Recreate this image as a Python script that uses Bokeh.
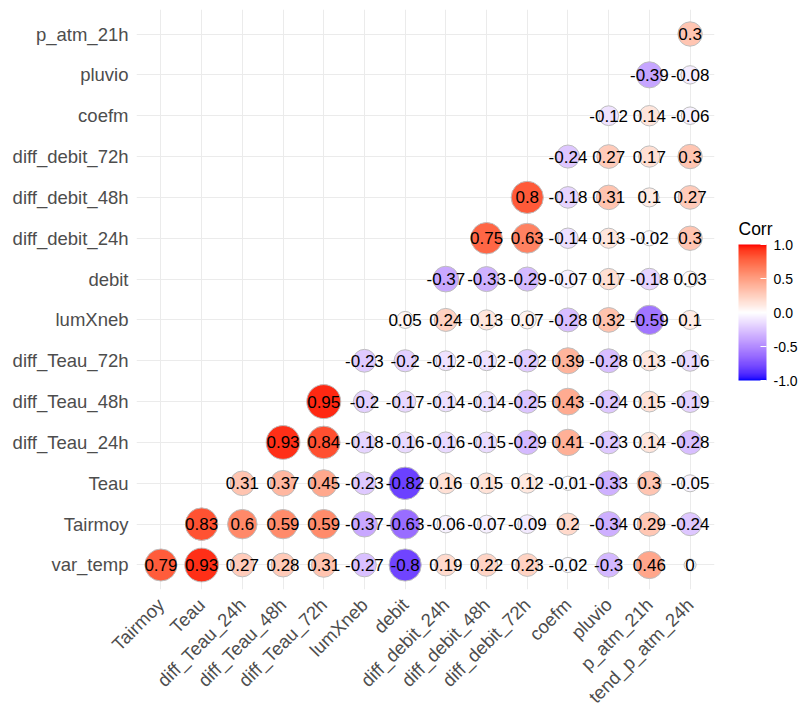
import math
import numpy as np
from bokeh.plotting import figure
from bokeh.models import (ColumnDataSource, FactorRange, ColorBar, LinearColorMapper,
                          FixedTicker, PrintfTickFormatter)
from bokeh.core.properties import value
from bokeh.embed import file_html
from bokeh.resources import INLINE

# ---------------- data ----------------
x_labels = ["Tairmoy", "Teau", "diff_Teau_24h", "diff_Teau_48h", "diff_Teau_72h",
            "lumXneb", "debit", "diff_debit_24h", "diff_debit_48h", "diff_debit_72h",
            "coefm", "pluvio", "p_atm_21h", "tend_p_atm_24h"]
y_labels = ["var_temp", "Tairmoy", "Teau", "diff_Teau_24h", "diff_Teau_48h",
            "diff_Teau_72h", "lumXneb", "debit", "diff_debit_24h", "diff_debit_48h",
            "diff_debit_72h", "coefm", "pluvio", "p_atm_21h"]

r_var_temp = [0.79, 0.93, 0.27, 0.28, 0.31, -0.27, -0.8, 0.19, 0.22, 0.23, -0.02, -0.3, 0.46, 0.0]
r_tairmoy = [0.83, 0.6, 0.59, 0.59, -0.37, -0.63, -0.06, -0.07, -0.09, 0.2, -0.34, 0.29, -0.24]
r_teau = [0.31, 0.37, 0.45, -0.23, -0.82, 0.16, 0.15, 0.12, -0.01, -0.33, 0.3, -0.05]
r_dteau24 = [0.93, 0.84, -0.18, -0.16, -0.16, -0.15, -0.29, 0.41, -0.23, 0.14, -0.28]
r_dteau48 = [0.95, -0.2, -0.17, -0.14, -0.14, -0.25, 0.43, -0.24, 0.15, -0.19]
r_dteau72 = [-0.23, -0.2, -0.12, -0.12, -0.22, 0.39, -0.28, 0.13, -0.16]
r_lumxneb = [0.05, 0.24, 0.13, 0.07, -0.28, 0.32, -0.59, 0.1]
r_debit = [-0.37, -0.33, -0.29, -0.07, 0.17, -0.18, 0.03]
r_ddeb24 = [0.75, 0.63, -0.14, 0.13, -0.02, 0.3]
r_ddeb48 = [0.8, -0.18, 0.31, 0.1, 0.27]
r_ddeb72 = [-0.24, 0.27, 0.17, 0.3]
r_coefm = [-0.12, 0.14, -0.06]
r_pluvio = [-0.39, -0.08]
r_patm21 = [0.3]

rows = [r_var_temp, r_tairmoy, r_teau, r_dteau24, r_dteau48, r_dteau72, r_lumxneb,
        r_debit, r_ddeb24, r_ddeb48, r_ddeb72, r_coefm, r_pluvio, r_patm21]

cbar_ticks = [-1.0, -0.5, 0.0, 0.5, 1.0]
legend_title = "Corr"

# ---------------- colour palette (Lab interpolation blue-white-red) ----------------
def srgb_to_lab(rgb):
    c = np.array(rgb, dtype=float) / 255.0
    c = np.where(c > 0.04045, ((c + 0.055) / 1.055) ** 2.4, c / 12.92)
    M = np.array([[0.4124564, 0.3575761, 0.1804375],
                  [0.2126729, 0.7151522, 0.0721750],
                  [0.0193339, 0.1191920, 0.9503041]])
    xyz = M @ c
    wp = np.array([0.95047, 1.0, 1.08883])
    t = xyz / wp
    f = np.where(t > (6 / 29) ** 3, np.cbrt(t), t / (3 * (6 / 29) ** 2) + 4 / 29)
    L = 116 * f[1] - 16
    a = 500 * (f[0] - f[1])
    b = 200 * (f[1] - f[2])
    return np.array([L, a, b])


def lab_to_hex(lab):
    L, a, b = lab
    fy = (L + 16) / 116
    fx = fy + a / 500
    fz = fy - b / 200
    f = np.array([fx, fy, fz])
    d = 6 / 29
    t = np.where(f > d, f ** 3, 3 * d * d * (f - 4 / 29))
    xyz = t * np.array([0.95047, 1.0, 1.08883])
    Minv = np.array([[3.2404542, -1.5371385, -0.4985314],
                     [-0.9692660, 1.8760108, 0.0415560],
                     [0.0556434, -0.2040259, 1.0572252]])
    lin = Minv @ xyz
    lin = np.clip(lin, 0, 1)
    s = np.where(lin > 0.0031308, 1.055 * lin ** (1 / 2.4) - 0.055, 12.92 * lin)
    s = np.clip(np.round(s * 255), 0, 255).astype(int)
    return "#%02x%02x%02x" % tuple(s)


lab_blue = srgb_to_lab([0, 0, 255])
lab_white = srgb_to_lab([255, 255, 255])
lab_red = srgb_to_lab([255, 0, 0])
palette = []
N = 256
for k in range(N):
    t = -1 + 2 * k / (N - 1)
    if t < 0:
        lab = lab_white + (lab_blue - lab_white) * (-t)
    else:
        lab = lab_white + (lab_red - lab_white) * t
    palette.append(lab_to_hex(lab))

mapper = LinearColorMapper(palette=palette, low=-1, high=1)

# ---------------- long-form table ----------------
xs, ys, vals = [], [], []
for i, row in enumerate(rows):
    for j, v in enumerate(row):
        xs.append(x_labels[i + j])
        ys.append(y_labels[i])
        vals.append(v)
vals_arr = np.array(vals)
max_abs = np.abs(vals_arr).max()
sizes = 12 + 22 * np.sqrt(np.abs(vals_arr) / max_abs)
labels = [f"{v:g}" for v in vals]

src = ColumnDataSource(dict(x=xs, y=ys, v=vals, size=sizes, label=labels))

FONT = "Liberation Sans"
FRAME_W, FRAME_H = 578, 580

p = figure(
    x_range=FactorRange(factors=x_labels, range_padding=0.1, range_padding_units="absolute"),
    y_range=FactorRange(factors=y_labels, range_padding=0.1, range_padding_units="absolute"),
    frame_width=FRAME_W, frame_height=FRAME_H,
    output_backend="svg", toolbar_location=None,
    min_border_left=136, min_border_top=9, min_border_right=86, min_border_bottom=10,
)
p.outline_line_color = None
p.background_fill_color = "white"
p.border_fill_color = "white"

for ax in (p.xaxis[0], p.yaxis[0]):
    ax.axis_line_color = None
    ax.major_tick_line_color = None
    ax.minor_tick_line_color = None
    ax.major_tick_out = 0
    ax.major_tick_in = 0
    ax.major_label_text_font = FONT
    ax.major_label_text_font_size = "18.5px"
    ax.major_label_text_color = "#4D4D4D"

p.yaxis.major_label_standoff = 8
p.xaxis.major_label_standoff = 12
p.xaxis.major_label_orientation = math.pi / 4

p.xgrid.grid_line_color = "#EBEBEB"
p.ygrid.grid_line_color = "#EBEBEB"
p.xgrid.grid_line_width = 1
p.ygrid.grid_line_width = 1

p.scatter(x="x", y="y", size="size", source=src,
          fill_color={"field": "v", "transform": mapper},
          line_color="#BEBEBE", line_width=1)

p.text(x="x", y="y", text="label", source=src,
       text_align="center", text_baseline="middle",
       text_font=value(FONT), text_font_size="17px", text_color="black")

# colour bar
cb = ColorBar(
    color_mapper=mapper, width=28, height=136, margin=0, padding=0,
    location=(FRAME_W + 24, 209),
    major_label_text_font=FONT, major_label_text_font_size="14px",
    major_label_text_color="black",
    label_standoff=7,
    ticker=FixedTicker(ticks=cbar_ticks),
    formatter=PrintfTickFormatter(format="%.1f"),
    major_tick_line_color="white", major_tick_in=6, major_tick_out=0,
    minor_tick_line_color=None,
    bar_line_color=None, border_line_color=None,
    background_fill_color=None, background_fill_alpha=0,
)
p.add_layout(cb, "center")

# horizontal title above the colour bar (a title-only horizontal colour bar)
cb_title = ColorBar(
    color_mapper=mapper, orientation="horizontal", width=28, height=1,
    margin=0, padding=0, location=(FRAME_W + 24, 350),
    title=legend_title, title_standoff=0,
    title_text_font=FONT, title_text_font_size="17.5px", title_text_font_style="normal",
    title_text_color="black",
    scale_alpha=0.0,
    ticker=FixedTicker(ticks=[]),
    major_label_text_font_size="1px", major_label_text_alpha=0.0,
    label_standoff=0,
    major_tick_line_color=None, minor_tick_line_color=None,
    bar_line_color=None, border_line_color=None,
    background_fill_color=None, background_fill_alpha=0,
)
p.add_layout(cb_title, "center")

open("out.html", "w").write(file_html(p, INLINE))
